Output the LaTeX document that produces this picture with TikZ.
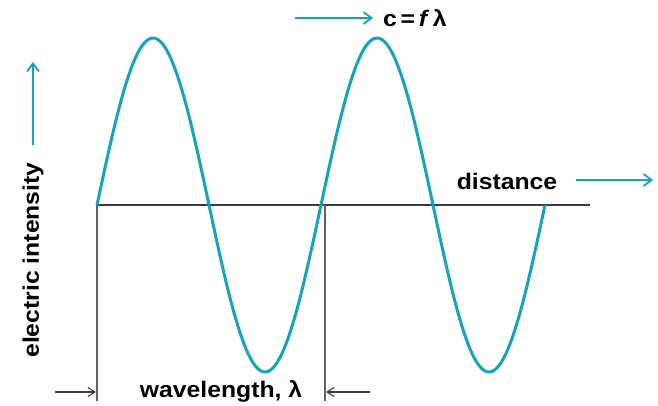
\documentclass[tikz,border=0pt]{standalone}
\usepackage{fontspec}
\setmainfont{Liberation Sans}[FakeStretch=1.1]
\usetikzlibrary{arrows.meta}
\definecolor{wavecol}{RGB}{22,163,190}
\definecolor{axiscol}{RGB}{60,60,60}
\tikzset{
  wavestyle/.style={draw=wavecol, line width=3pt, line join=round},
  axisline/.style={draw=axiscol, line width=1.2pt},
  dimline/.style={draw=axiscol!80, line width=1.1pt},
  tealarrow/.style={draw=wavecol, line width=2pt, -{Straight Barb[length=8pt,width=12pt,line width=1.8pt]}},
  dimarrow/.style={draw=axiscol, line width=1.1pt, -{Straight Barb[length=7pt,width=9pt,line width=1.1pt]}},
  lbl/.style={font=\fontsize{22.5}{26}\selectfont\bfseries, text=black, inner sep=0pt},
}
\begin{document}
\begin{tikzpicture}[x=1pt,y=-1pt]
\useasboundingbox (0,0) rectangle (658,406);
\fill[white] (0,0) rectangle (658,406);
% axis
\coordinate (a0) at (97,205);
\coordinate (a1) at (590,205);
\draw[axisline] (a0) -- (a1);
% wavelength markers
\coordinate (v0t) at (97,205);
\coordinate (v0b) at (97,401);
\coordinate (v1t) at (325,205);
\coordinate (v1b) at (325,401);
\draw[dimline] (v0t) -- (v0b);
\draw[dimline] (v1t) -- (v1b);
% wave
\draw[wavestyle] plot[domain=97:545, samples=240, smooth] (\x, {205 - 167*sin((\x-97)/224*360)});
% labels
\node[lbl] (dist) at (507,181) {distance};
\node[lbl, rotate=90] (ei) at (33,260) {electric intensity};
\node[lbl] (wl) at (221,391) {wavelength, λ};
\node[lbl, anchor=west] (cfl) at (383,18) {c\,=\,\textit{f}\,λ};
% arrows
\coordinate (d0) at (576,180);
\coordinate (d1) at (653,180);
\draw[tealarrow] (d0) -- (d1);
\coordinate (e0) at (33,145);
\coordinate (e1) at (33,62);
\draw[tealarrow] (e0) -- (e1);
\coordinate (c0) at (295,18);
\coordinate (c1) at (373,18);
\draw[tealarrow] (c0) -- (c1);
\coordinate (w0) at (55,392);
\coordinate (w1) at (96,392);
\draw[dimarrow] (w0) -- (w1);
\coordinate (w2) at (370,392);
\coordinate (w3) at (326,392);
\draw[dimarrow] (w2) -- (w3);
\end{tikzpicture}
\end{document}
